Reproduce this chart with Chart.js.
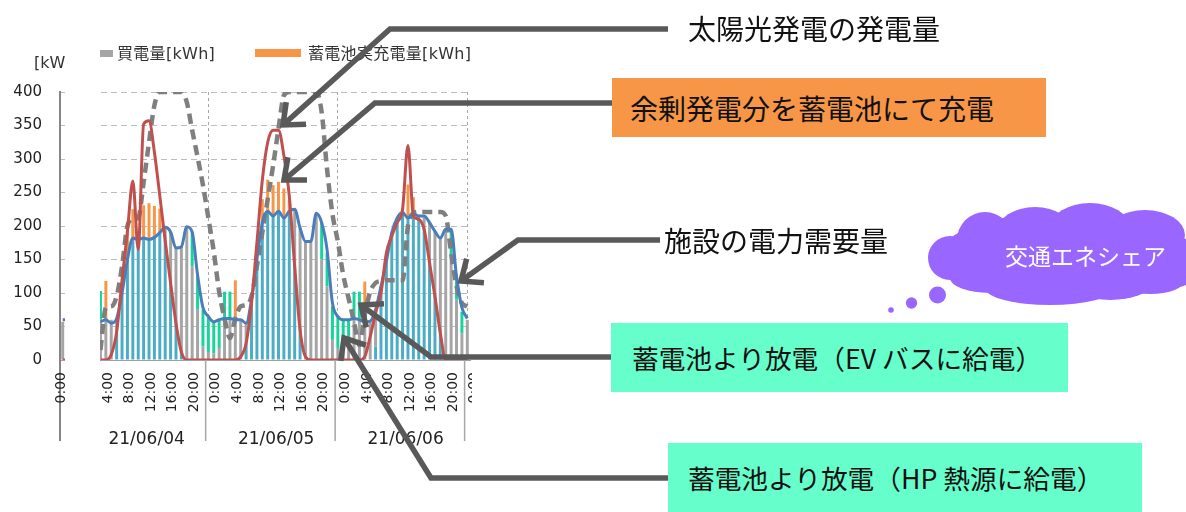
<!DOCTYPE html>
<html><head><meta charset="utf-8">
<script src="https://cdn.jsdelivr.net/npm/chart.js@4/dist/chart.umd.min.js"></script>
<style>
html,body{margin:0;padding:0;background:#fff;}
#wrap{position:relative;width:1186px;height:512px;overflow:hidden;font-family:'DejaVu Sans','Noto Sans CJK JP',sans-serif;color:#222;}
#c{position:absolute;left:0;top:0;}
.abs{position:absolute;}
.mask{position:absolute;background:#fff;}
.jp{position:absolute;font-family:'Noto Sans CJK JP',sans-serif;color:#111;white-space:nowrap;}
.box{position:absolute;display:flex;align-items:center;font-family:'Noto Sans CJK JP',sans-serif;color:#111;white-space:nowrap;box-sizing:border-box;}
.leg{position:absolute;font-size:16px;line-height:18px;white-space:nowrap;color:#333;}
</style></head><body>
<div id="wrap">
  <canvas id="c" width="1186" height="512"></canvas>
  <div class="leg" style="left:34px;top:54px;">[kWh]</div>
  <svg class="abs" style="left:0;top:0" width="120" height="512">
    <text transform="translate(61,372) rotate(-90)" text-anchor="end" dominant-baseline="middle" font-family="DejaVu Sans" font-size="14" fill="#222">0:00</text>
  </svg>
  <div class="mask" style="left:65px;top:40px;width:34.5px;height:406px;"></div>
  <div class="mask" style="left:472px;top:40px;width:90px;height:410px;"></div>
  <div class="abs" style="left:100px;top:50px;width:13px;height:7px;background:#a5a5a5;"></div>
  <div class="leg" style="left:117px;top:45px;letter-spacing:0.3px;">買電量[kWh]</div>
  <div class="abs" style="left:255px;top:49px;width:46px;height:8px;background:#f79646;"></div>
  <div class="leg" style="left:308px;top:45px;width:166px;overflow:hidden;letter-spacing:0.3px;">蓄電池実充電量[kWh]</div>

  <svg id="ov" class="abs" style="left:0;top:0" width="1186" height="512">
    <g fill="#9966ff">
      <ellipse cx="1060" cy="255" rx="120" ry="42"/>
      <circle cx="950" cy="258" r="22"/>
      <circle cx="985" cy="240" r="28"/>
      <ellipse cx="1035" cy="232" rx="38" ry="25"/>
      <ellipse cx="1090" cy="228" rx="40" ry="25"/>
      <ellipse cx="1145" cy="235" rx="40" ry="25"/>
      <ellipse cx="1172" cy="262" rx="30" ry="26"/>
      <ellipse cx="1150" cy="280" rx="35" ry="14"/>
      <ellipse cx="1050" cy="288" rx="65" ry="17"/>
      <ellipse cx="990" cy="278" rx="40" ry="15"/>
      <ellipse cx="1110" cy="285" rx="40" ry="15"/>
      <circle cx="937.5" cy="295" r="8.5"/>
      <circle cx="911.5" cy="303" r="5.7"/>
      <circle cx="891" cy="310" r="2.8"/>
    </g>
    <ellipse cx="1158" cy="517" rx="7" ry="5" fill="#c9b3ff"/>
    <g id="arrows" stroke="#595959" stroke-width="5.5" fill="none" stroke-linejoin="miter"></g>
  </svg>

  <div class="jp" style="left:688px;top:12px;font-size:28px;line-height:32px;">太陽光発電の発電量</div>
  <div class="box" style="left:612px;top:78px;width:434px;height:59px;background:#f79646;padding-left:18px;font-size:28px;">余剰発電分を蓄電池にて充電</div>
  <div class="jp" style="left:664px;top:224px;font-size:28px;line-height:32px;">施設の電力需要量</div>
  <div class="box" style="left:611px;top:323px;width:457px;height:69px;background:#66ffcc;padding-left:21px;font-size:26.7px;">蓄電池より放電（EV バスに給電）</div>
  <div class="box" style="left:668px;top:443px;width:474px;height:69px;background:#66ffcc;padding-left:20px;font-size:26.7px;">蓄電池より放電（HP 熱源に給電）</div>
  <div class="jp" style="left:1005px;top:241px;font-size:23px;line-height:28px;color:#fff;">交通エネシェア</div>
</div>
<script>
// ---- categories: hourly, 21/06/03 21:00 … 21/06/07 0:00 ----
const dayLabels   = ['21/06/03','21/06/04','21/06/05','21/06/06','21/06/07'];
const dayFirstHour = [21, 0, 0, 0, 0];
const dayLastHour  = [23, 23, 23, 23, 0];
const categories = [];
dayLabels.forEach((d, di) => {
  for (let h = dayFirstHour[di]; h <= dayLastHour[di]; h++) categories.push({day: d, hour: h});
});
const catLabels  = categories.map(c => c.day + ' ' + c.hour + ':00');
const dateLabels = categories.map(c => c.day);
const hourTicks  = categories.map((c, i) => (i > 0 && c.hour % 4 === 0) ? c.hour + ':00' : '');
const dateTicks  = categories.map(c => c.hour === 12 ? c.day : '');

// ---- series (kWh per hour) ----
// 太陽光 自家消費 (teal bars)
const solarSelfUse = [
  null,null,null,
  null,null,null,null, 0,0,0,42, 100,150,182,165, 182,180,183,190, 178,115,55,12, 0,0,0,0,
  0,0,0,0, 0,0,0,25, 85,150,205,222, 215,222,212,222, 140,45,0,0, 0,0,0,0,
  0,0,0,0, 0,0,0,20, 100,147,185,205, 220,212,215,210, 195,145,95,40, 0,0,0,0,
  0
];
// 買電量[kWh] (grey bars)
const purchased = [
  57,null,null,
  null,null,null,null, 60,60,60,20, 0,0,0,15, 0,0,0,0, 20,76,112,157, 199,140,75,20,
  12,10,18,60, 60,63,60,30, 5,0,0,0, 0,0,0,0, 85,152,177,177, 219,150,110,30,
  18,18,18,62, 62,62,58,55, 10,0,5,7, 0,0,3,5, 20,60,97,142, 195,150,90,40,
  60
];
// 蓄電池放電 (green bars)
const discharged = [
  0,null,null,
  null,null,null,null, 43,0,0,0, 0,0,0,0, 0,0,0,0, 0,0,0,0, 0,51,50,55,
  52,48,42,42, 42,0,0,0, 0,0,0,0, 0,0,0,0, 0,0,0,0, 0,55,50,50,
  48,42,42,40, 40,0,0,0, 0,0,0,0, 0,0,0,0, 0,0,0,0, 0,45,38,32,
  0
];
// 蓄電池実充電量[kWh] (orange bars)
const charged = [
  0,null,null,
  null,null,null,null, 0,58,0,0, 0,55,43,0, 49,54,47,36, 0,0,0,0, 0,0,0,0,
  0,0,0,0, 0,56,0,0, 0,0,35,47, 46,44,44,17, 0,0,0,0, 0,0,0,0,
  0,0,0,0, 0,55,0,0, 0,0,0,0, 0,50,25,0, 0,0,0,0, 0,0,0,0,
  0
];
// 施設の電力需要量 (blue line)
const demand = [
  60,60,null,
  null,null,null,null, 57,60,55,62, 100,150,182,180, 182,180,183,190, 198,191,167,169, 199,191,127,78,
  65,57,60,62, 62,60,60,55, 90,150,205,222, 215,222,212,222, 225,197,177,177, 219,205,165,85,
  65,60,60,62, 60,57,58,75, 110,147,190,212, 220,212,218,215, 215,205,192,182, 195,195,125,78,
  62
];
// 太陽光発電の発電量 (red line)
const solar = [
  0,0,null,
  null,null,null,null, 0,0,8,42, 119,192,267,165, 352,357,310,245, 178,115,55,12, 0,0,0,0,
  0,0,0,0, 0,0,5,25, 85,175,268,325, 343,343,305,245, 140,45,5,0, 0,0,0,0,
  0,0,0,0, 0,5,35,70, 100,160,185,205, 225,320,215,210, 195,145,95,40, 0,0,0,0,
  0
];
// 蓄電池残量 (grey dashed line)
const storage = [
  null,null,null,
  null,null,null,null, 15,78,80,95, 140,200,210,212, 265,325,380,400, 400,400,400,400, 385,343,303,261,
  212,162,102,62, 33,62,80,82, 95,140,190,240, 290,345,395,400, 400,400,400,400, 400,370,285,218,
  177,127,92,57, 22,67,102,115, 118,119,119,119, 119,200,219,221, 221,221,221,221, 215,160,110,85,
  80
];
const yTicks = {min: 0, max: 400, step: 50};

const barDs = (label, data, color) => ({type: 'bar', label, data, backgroundColor: color, borderWidth: 0,
  stack: 'bars', order: 10, barPercentage: 0.55, categoryPercentage: 1.0, xAxisID: 'x', yAxisID: 'y'});
const lineDs = (label, data, color, width, dash, order) => ({type: 'line', label, data, borderColor: color,
  borderWidth: width, borderDash: dash, pointRadius: 0, fill: false, cubicInterpolationMode: 'monotone',
  stack: 'line' + order, order, xAxisID: 'x', yAxisID: 'y', borderCapStyle: 'butt'});

const daySeparators = {
  id: 'daySeparators',
  afterDraw(chart) {
    const xs = chart.scales.x, ctx = chart.ctx, ca = chart.chartArea;
    const half = (xs.getPixelForValue(1) - xs.getPixelForValue(0)) / 2;
    ctx.save();
    ctx.strokeStyle = '#a6a6a6'; ctx.lineWidth = 1.5;
    categories.forEach((c, i) => {
      if (c.hour === 0 && i > 0) {
        const x = xs.getPixelForValue(i) - half;
        ctx.beginPath(); ctx.moveTo(x, ca.bottom); ctx.lineTo(x, 441); ctx.stroke();
      }
    });
    ctx.strokeStyle = '#868686'; ctx.lineWidth = 2;
    ctx.beginPath(); ctx.moveTo(ca.left, ca.bottom); ctx.lineTo(ca.left, 441); ctx.stroke();
    ctx.restore();
  }
};

new Chart(document.getElementById('c'), {
  data: {
    labels: catLabels,
    datasets: [
      barDs('太陽光自家消費[kWh]', solarSelfUse, '#4bacc6'),
      barDs('買電量[kWh]', purchased, '#a5a5a5'),
      barDs('蓄電池放電量[kWh]', discharged, '#17d49c'),
      barDs('蓄電池実充電量[kWh]', charged, '#f79646'),
      lineDs('蓄電池残量', storage, '#7f7f7f', 4.5, [10, 6], 3),
      lineDs('施設の電力需要量', demand, '#4a7ebb', 3, [], 2),
      lineDs('太陽光発電の発電量', solar, '#c0504d', 3, [], 1)
    ]
  },
  options: {
    responsive: false, animation: false, devicePixelRatio: 1,
    layout: {padding: {left: 0, top: 92, right: 716, bottom: 0}},
    plugins: {legend: {display: false}, tooltip: {enabled: false}},
    scales: {
      y: {
        stacked: true, min: yTicks.min, max: yTicks.max,
        ticks: {stepSize: yTicks.step, padding: 18, color: '#222', font: {family: 'DejaVu Sans', size: 15}},
        grid: {color: '#bdbdbd', lineWidth: 1, drawTicks: false},
        border: {display: true, color: '#868686', width: 2, dash: [6, 4]},
        afterFit: s => { s.width = 60; }
      },
      x: {
        type: 'category', stacked: true, offset: true, weight: 0,
        grid: {offset: false, drawTicks: false, lineWidth: 1,
          color: ctx => (ctx.index > 0 && categories[ctx.index] && categories[ctx.index].hour === 0) ? '#a6a6a6' : 'rgba(0,0,0,0)'},
        border: {display: true, color: '#a0a0a0', width: 1, dash: [3, 3]},
        ticks: {autoSkip: false, maxRotation: 90, minRotation: 90, padding: 12, labelOffset: 7.5,
          color: '#222', font: {family: 'DejaVu Sans', size: 14},
          callback: (v, i) => hourTicks[i]},
        afterFit: s => { s.height = 58; }
      },
      x2: {
        type: 'category', labels: dateLabels, offset: true, position: 'bottom', weight: 1,
        grid: {display: false}, border: {display: false},
        ticks: {autoSkip: false, maxRotation: 0, minRotation: 0, padding: 3, labelOffset: 3,
          color: '#222', font: {family: 'DejaVu Sans', size: 17},
          callback: (v, i) => dateTicks[i]},
        afterFit: s => { s.height = 94; }
      }
    }
  },
  plugins: [daySeparators]
});

// ---- annotation arrows (callout lines) ----
const arrowPaths = [
  [[668,29],[390,29],[283,125]],
  [[612,103],[375,103],[284,180]],
  [[660,240],[518,240],[461,281]],
  [[611,357],[431,357],[361,305]],
  [[668,478],[431,478],[344,338]]
];
const g = document.getElementById('arrows');
const NS = 'http://www.w3.org/2000/svg';
arrowPaths.forEach(pts => {
  const pl = document.createElementNS(NS, 'polyline');
  pl.setAttribute('points', pts.map(p => p.join(',')).join(' '));
  g.appendChild(pl);
  const tip = pts[pts.length - 1], prev = pts[pts.length - 2];
  const dx = prev[0] - tip[0], dy = prev[1] - tip[1], len = Math.hypot(dx, dy);
  const ux = dx / len, uy = dy / len, L = 23, a = 40 * Math.PI / 180;
  const arm = s => [tip[0] + L * (ux * Math.cos(s * a) - uy * Math.sin(s * a)), tip[1] + L * (ux * Math.sin(s * a) + uy * Math.cos(s * a))];
  const h = document.createElementNS(NS, 'polyline');
  h.setAttribute('points', [arm(1), tip, arm(-1)].map(p => p.join(',')).join(' '));
  g.appendChild(h);
});
</script>
</body></html>
